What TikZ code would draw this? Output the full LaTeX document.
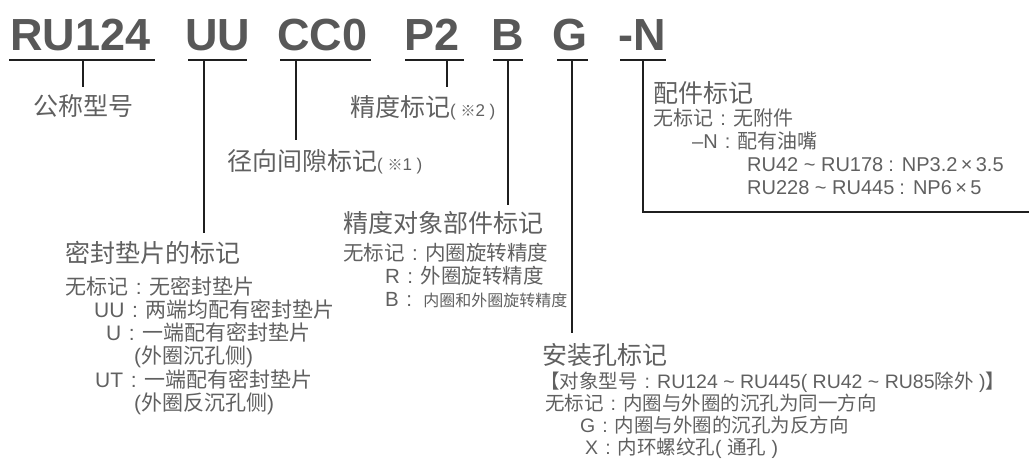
\documentclass[tikz,border=0pt]{standalone}
\usepackage{fontspec}
\setmainfont{Liberation Sans}
\newfontfamily\cjk{Noto Sans CJK SC}
\newfontfamily\lt{Liberation Sans}
\definecolor{tgray}{HTML}{606060}
\definecolor{ttl}{HTML}{585858}
\newcommand\hdsize{\fontsize{25}{30}\selectfont}
\newcommand\smsize{\fontsize{16}{19}\selectfont}
\newcommand\tl{\ \textasciitilde\ }
\newcommand\cl{\makebox[1em]{\lt :}}
\tikzset{
  ttlnode/.style={anchor=base west, inner sep=0pt, text=ttl, font=\fontsize{45}{50}\selectfont\bfseries\lt},
  heading/.style={anchor=west, inner sep=0pt, text=tgray, font=\hdsize\cjk, text height=19pt, text depth=0pt},
  item/.style={anchor=west, inner sep=0pt, text=tgray, font=\fontsize{#1}{24}\selectfont\cjk, text height=0.76*#1 pt, text depth=0pt},
  item/.default=20,
  rule/.style={line width=1.3pt, draw=black!88},
}
\begin{document}
\begin{tikzpicture}[x=1pt,y=1pt]
\useasboundingbox (0,0) rectangle (1029,-464);
% title
\node[ttlnode] (tRU) at (10,-50) {RU124};
\node[ttlnode] (tUU) at (185,-50) {UU};
\node[ttlnode] (tCC) at (277,-50) {CC0};
\node[ttlnode] (tP)  at (404,-50) {P2};
\node[ttlnode] (tB)  at (491,-50) {B};
\node[ttlnode] (tG)  at (552,-50) {G};
\node[ttlnode] (tN)  at (618,-50) {-N};
% underlines
\foreach \n/\a/\b in {r/9/155, uu/188/247, cc/280/371, p/405/464, b/493/523, g/557/588, n/620/666}{
  \coordinate (\n L) at (\a,-60);
  \coordinate (\n R) at (\b,-60);
  \draw[rule] (\n L) -- (\n R);
}
% leaders
\foreach \n/\x/\y in {r/83/87, uu/204/233, cc/296/140, p/447/87, b/508/205, g/572/333}{
  \coordinate (\n T) at (\x,-60);
  \coordinate (\n E) at (\x,-\y);
  \draw[rule] (\n T) -- (\n E);
}
\coordinate (nT) at (643,-60);
\coordinate (nC) at (643,-212);
\coordinate (nE) at (1029,-212);
\draw[rule] (nT) -- (nC) -- (nE);
% headings
\node[heading] (h1) at (33,-106) {公称型号};
\node[heading] (h2) at (350,-107) {精度标记{\lt\fontsize{17}{20}\selectfont( }{\fontsize{15}{17}\selectfont ※}{\lt\fontsize{17}{20}\selectfont 2 )}};
\node[heading] (h3) at (227,-161) {径向间隙标记{\lt\fontsize{17}{20}\selectfont( }{\fontsize{15}{17}\selectfont ※}{\lt\fontsize{17}{20}\selectfont 1 )}};
\node[heading] (h4) at (653,-93) {配件标记};
\node[heading] (h5) at (343,-223) {精度对象部件标记};
\node[heading] (h6) at (65,-253) {密封垫片的标记};
\node[heading] (h7) at (542,-355) {安装孔标记};
% accessory list
\node[item] (a1) at (653,-118) {无标记\cl 无附件};
\node[item] (a2) at (692,-141) {{\lt –N}\cl 配有油嘴};
\node[item] (a3) at (747,-164) {\lt RU42\tl RU178\hspace{5pt}:\hspace{8pt}NP3.2\,×\,3.5};
\node[item] (a4) at (747,-187) {\lt RU228\tl RU445\hspace{5pt}:\hspace{8pt}NP6\,×\,5};
% precision object list
\node[item=20.5] (b1) at (343,-253) {无标记\cl 内圈旋转精度};
\node[item=20.5] (b2) at (385,-276) {{\lt R}\cl 外圈旋转精度};
\node[item=20.5] (b3) at (385,-299) {{\lt B}\cl\hspace{4pt}{\smsize 内圈和外圈旋转精度}};
% seal list
\node[item=21] (s1) at (65,-287) {无标记\cl 无密封垫片};
\node[item=21] (s2) at (94,-310) {{\lt UU}\cl 两端均配有密封垫片};
\node[item=21] (s3) at (106,-333) {{\lt U}\cl 一端配有密封垫片};
\node[item=21] (s4) at (134,-356) {{\lt (}外圈沉孔侧{\lt )}};
\node[item=21] (s5) at (95,-380) {{\lt UT}\cl 一端配有密封垫片};
\node[item=21] (s6) at (134,-403) {{\lt (}外圈反沉孔侧{\lt )}};
% mounting hole list
\node[item=19.5] (m1) at (540,-381) {【对象型号\cl{\lt RU124\tl RU445( RU42\tl RU85}除外{\lt\ )}】};
\node[item=19.5] (m2) at (545,-403) {无标记\cl 内圈与外圈的沉孔为同一方向};
\node[item=19.5] (m3) at (580,-425) {{\lt G}\cl 内圈与外圈的沉孔为反方向};
\node[item=19.5] (m4) at (585,-447) {{\lt X}\cl 内环螺纹孔{\lt (\ }通孔{\lt\ )}};
\end{tikzpicture}
\end{document}
